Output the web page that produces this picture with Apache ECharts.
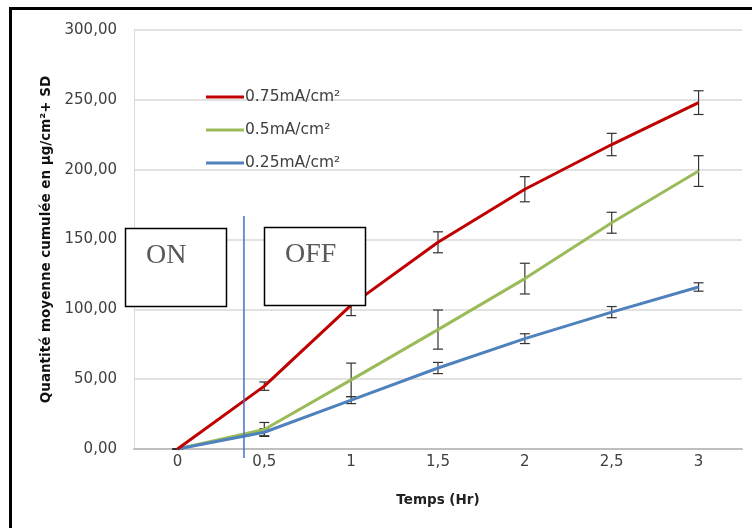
<!DOCTYPE html>
<html>
<head>
<meta charset="utf-8">
<script src="https://cdn.jsdelivr.net/npm/echarts@6/dist/echarts.min.js"></script>
<style>
html,body{margin:0;padding:0;background:#fff;}
#chart{width:752px;height:528px;}
</style>
</head>
<body>
<div id="chart"></div>
<script>
// ---- data ----
const times = [0, 0.5, 1, 1.5, 2, 2.5, 3];
const xTickLabels = ['0', '0,5', '1', '1,5', '2', '2,5', '3'];
const seriesNames = ['0.75mA/cm²', '0.5mA/cm²', '0.25mA/cm²'];
const red075 = [0, 45, 103, 148, 186, 218, 248];
const red075SD = [0, 3, 7.5, 7.5, 9, 8, 8.5];
const green05 = [0, 14, 49.5, 85.5, 122, 162, 199];
const green05SD = [0, 5, 12, 14, 11, 7.5, 11];
const blue025 = [0, 12, 35, 58, 79, 98, 116];
const blue025SD = [0, 2.5, 2.5, 4, 3.5, 4, 3];
const switchTime = 0.383; // ON/OFF switch marker (Hr)

const colors = ['#C00000', '#9BBB59', '#4F81BD'];
const labelFont = 'DejaVu Sans';

function pairs(vals) { return times.map((t, i) => [t, vals[i]]); }
function bars(vals, sd) { return times.map((t, i) => [t, vals[i] - sd[i], vals[i] + sd[i]]); }

function errorBarSeries(vals, sd, z) {
  return {
    type: 'custom',
    z: z,
    silent: true,
    data: bars(vals, sd),
    renderItem: function (params, api) {
      const x = api.value(0);
      const lo = api.coord([x, api.value(1)]);
      const hi = api.coord([x, api.value(2)]);
      const w = 5;
      const st = { stroke: '#333333', lineWidth: 1.2 };
      return {
        type: 'group',
        children: [
          { type: 'line', shape: { x1: lo[0], y1: lo[1], x2: hi[0], y2: hi[1] }, style: st },
          { type: 'line', shape: { x1: lo[0] - w, y1: lo[1], x2: lo[0] + w, y2: lo[1] }, style: st },
          { type: 'line', shape: { x1: hi[0] - w, y1: hi[1], x2: hi[0] + w, y2: hi[1] }, style: st }
        ]
      };
    }
  };
}

function lineSeries(name, vals, color, z) {
  return {
    name: name,
    type: 'line',
    data: pairs(vals),
    symbol: 'none',
    smooth: false,
    z: z,
    lineStyle: { color: color, width: 3 },
    itemStyle: { color: color }
  };
}

const chart = echarts.init(document.getElementById('chart'), null, { renderer: 'canvas' });
chart.setOption({
  animation: false,
  backgroundColor: '#ffffff',
  grid: { left: 134, right: 10, top: 30, bottom: 79, containLabel: false },
  legend: {
    orient: 'vertical',
    left: 201,
    top: 83,
    icon: 'rect',
    itemWidth: 38,
    itemHeight: 3,
    itemGap: 15,
    data: seriesNames,
    textStyle: { fontFamily: labelFont, fontSize: 15.5, color: '#404040', lineHeight: 18, padding: [0, 0, 0, -4] }
  },
  xAxis: {
    type: 'value',
    min: -0.25,
    max: 3.25,
    name: 'Temps (Hr)',
    nameLocation: 'middle',
    nameGap: 44,
    nameTextStyle: { fontFamily: labelFont, fontSize: 13.5, fontWeight: 'bold', color: '#222' },
    axisLine: { show: true, onZero: false, lineStyle: { color: '#BFBFBF', width: 2 } },
    axisTick: { show: false },
    splitLine: { show: false },
    axisLabel: {
      customValues: times,
      margin: 6,
      fontFamily: labelFont,
      fontSize: 15,
      color: '#404040',
      formatter: function (v) { const i = times.indexOf(v); return i >= 0 ? xTickLabels[i] : ''; }
    }
  },
  yAxis: {
    type: 'value',
    min: 0,
    max: 300,
    interval: 50,
    name: 'Quantité moyenne cumulée en µg/cm²+ SD',
    nameLocation: 'middle',
    nameGap: 71,
    nameTextStyle: { fontFamily: labelFont, fontSize: 13.5, fontWeight: 'bold', color: '#111' },
    axisLine: { show: true, onZero: false, lineStyle: { color: '#D9D9D9', width: 1 } },
    axisTick: { show: false },
    splitLine: { show: true, lineStyle: { color: '#D9D9D9', width: 1.5 } },
    axisLabel: {
      margin: 17,
      fontFamily: labelFont,
      fontSize: 15,
      color: '#404040',
      formatter: function (v) { return v.toFixed(2).replace('.', ','); }
    }
  },
  series: [
    errorBarSeries(green05, green05SD, 3),
    errorBarSeries(blue025, blue025SD, 3),
    errorBarSeries(red075, red075SD, 3),
    lineSeries(seriesNames[1], green05, colors[1], 4),
    lineSeries(seriesNames[2], blue025, colors[2], 5),
    lineSeries(seriesNames[0], red075, colors[0], 6)
  ]
});

const sx = chart.convertToPixel({ xAxisIndex: 0 }, switchTime);
chart.setOption({
  graphic: [
    { type: 'rect', z: 200, silent: true, shape: { x: 10.5, y: 8.5, width: 800, height: 600 },
      style: { fill: 'none', stroke: '#000', lineWidth: 3 } },
    { type: 'line', z: 150, silent: true, shape: { x1: sx, y1: 216, x2: sx, y2: 458 },
      style: { stroke: '#4472C4', lineWidth: 1.5 } },
    { type: 'rect', z: 160, silent: true, shape: { x: 125.5, y: 228.5, width: 101, height: 78 },
      style: { fill: '#fff', stroke: '#000', lineWidth: 1.5 } },
    { type: 'text', z: 161, silent: true, x: 146, y: 256,
      style: { text: 'ON', fontFamily: 'Liberation Serif', fontSize: 28, fill: '#595959', textVerticalAlign: 'middle' } },
    { type: 'rect', z: 160, silent: true, shape: { x: 264.5, y: 227.5, width: 101, height: 78 },
      style: { fill: '#fff', stroke: '#000', lineWidth: 1.5 } },
    { type: 'text', z: 161, silent: true, x: 285, y: 255,
      style: { text: 'OFF', fontFamily: 'Liberation Serif', fontSize: 28, fill: '#595959', textVerticalAlign: 'middle' } }
  ]
});
</script>
</body>
</html>
